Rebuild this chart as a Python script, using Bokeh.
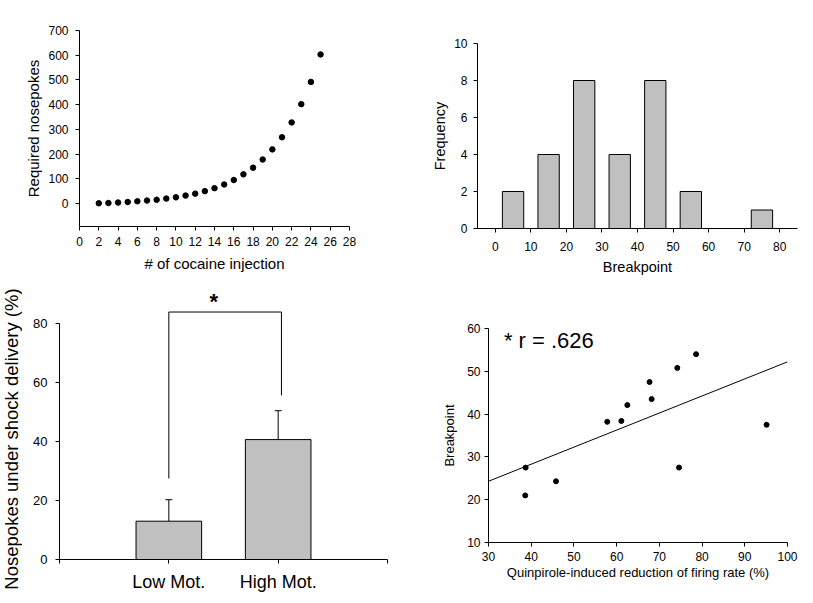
from bokeh.plotting import figure
from bokeh.layouts import column, row
from bokeh.models import FixedTicker, Label, Range1d
from bokeh.core.properties import value
from bokeh.embed import file_html
from bokeh.resources import INLINE
import numpy as np

# ---------------- Data ----------------
# Panel A: progressive-ratio schedule
injection_num = [2, 3, 4, 5, 6, 7, 8, 9, 10, 11, 12, 13, 14, 15, 16, 17, 18, 19, 20, 21, 22, 23, 24, 25]
required_nosepokes = [1, 2, 4, 6, 9, 12, 15, 20, 25, 32, 40, 50, 62, 77, 95, 118, 145, 178, 219, 268, 328, 402, 492, 603]

# Panel B: breakpoint histogram
bp_bin_centers = [5, 15, 25, 35, 45, 55, 65, 75]
bp_frequency = [2, 4, 8, 4, 8, 2, 0, 1]

# Panel C: nosepokes under shock
groups = ["Low Mot.", "High Mot."]
group_pos = [1, 2]
group_mean = [13.0, 40.7]
group_sem = [7.3, 9.8]
bracket_x = [1, 1, 2.03, 2.03]
bracket_y = [27.5, 84.0, 84.0, 55.7]
c_ylabel = "Nosepokes under shock delivery (%)"

# Panel D: correlation
firing_reduction = [38.7, 38.6, 45.8, 57.8, 61.1, 62.5, 67.7, 68.2, 74.2, 78.6, 74.6, 95.1]
breakpoint_vals = [27.5, 21.0, 24.3, 38.2, 38.4, 42.1, 47.5, 43.5, 50.8, 54.0, 27.5, 37.5]
r_text = "* r = .626"

FONT = "Liberation Sans"
GRAY = "#C0C0C0"


def style(p, tick_fs, label_fs, xstand=5, ystand=5, xlab_stand=8, ylab_stand=8):
    p.outline_line_color = None
    p.xgrid.visible = False
    p.ygrid.visible = False
    p.background_fill_color = "white"
    p.border_fill_color = "white"
    for ax in p.axis:
        ax.axis_line_color = "black"
        ax.axis_line_width = 1
        ax.major_tick_line_color = "black"
        ax.minor_tick_line_color = None
        ax.major_tick_in = 0
        ax.major_tick_out = 4
        ax.major_label_text_color = "black"
        ax.major_label_text_font = FONT
        ax.major_label_text_font_size = tick_fs
        ax.axis_label_text_color = "black"
        ax.axis_label_text_font = FONT
        ax.axis_label_text_font_size = label_fs
        ax.axis_label_text_font_style = "normal"
    p.xaxis.major_label_standoff = xstand
    p.yaxis.major_label_standoff = ystand
    p.xaxis.axis_label_standoff = xlab_stand
    p.yaxis.axis_label_standoff = ylab_stand


# ---------------- Panel A ----------------
p1 = figure(width=410, height=280, x_range=(0, 28), y_range=(-93, 700),
            min_border_left=79, min_border_right=61, min_border_top=30, min_border_bottom=54,
            output_backend="svg", toolbar_location=None)
p1.scatter(injection_num, required_nosepokes, size=5.5, color="black")
p1.xaxis.ticker = FixedTicker(ticks=list(range(0, 29, 2)))
p1.yaxis.ticker = FixedTicker(ticks=list(range(0, 701, 100)))
p1.xaxis.axis_label = "# of cocaine injection"
p1.yaxis.axis_label = "Required nosepokes"
style(p1, "12px", "15px", xstand=6, ystand=7, xlab_stand=6, ylab_stand=3)

# ---------------- Panel B ----------------
p2 = figure(width=401, height=280, x_range=(-5, 85), y_range=(0, 10),
            min_border_left=67, min_border_right=14, min_border_top=43, min_border_bottom=52,
            output_backend="svg", toolbar_location=None)
p2.vbar(x=bp_bin_centers, top=bp_frequency, width=6, bottom=0,
        fill_color=GRAY, line_color="black", line_width=1)
p2.xaxis.ticker = FixedTicker(ticks=list(range(0, 81, 10)))
p2.yaxis.ticker = FixedTicker(ticks=list(range(0, 11, 2)))
p2.xaxis.axis_label = "Breakpoint"
p2.yaxis.axis_label = "Frequency"
style(p2, "12px", "14.5px", xstand=9, ystand=6, xlab_stand=5, ylab_stand=3)

# ---------------- Panel C: y-axis title strip ----------------
pc_lab = figure(width=22, height=321, x_range=Range1d(0, 22), y_range=Range1d(321, 0),
                min_border_left=0, min_border_right=0, min_border_top=0, min_border_bottom=0,
                output_backend="svg", toolbar_location=None)
pc_lab.axis.visible = False
pc_lab.grid.visible = False
pc_lab.outline_line_color = None
pc_lab.text(x=[11], y=[158.5], text=[c_ylabel], angle=np.pi / 2,
            text_font=value(FONT), text_font_size="18.5px", text_align="center",
            text_baseline="middle", text_color="black")

# ---------------- Panel C ----------------
p3 = figure(width=388, height=321, x_range=(0, 3), y_range=(0, 93),
            min_border_left=37, min_border_right=23, min_border_top=5, min_border_bottom=42,
            output_backend="svg", toolbar_location=None)
p3.vbar(x=group_pos, top=group_mean, width=0.6, bottom=0,
        fill_color=GRAY, line_color="black", line_width=1)
err_top = [m + s for m, s in zip(group_mean, group_sem)]
p3.segment(x0=group_pos, y0=group_mean, x1=group_pos, y1=err_top, line_color="black", line_width=1)
p3.segment(x0=[x - 0.032 for x in group_pos], y0=err_top,
           x1=[x + 0.032 for x in group_pos], y1=err_top, line_color="black", line_width=1)
p3.line(bracket_x, bracket_y, line_color="black", line_width=1)
p3.add_layout(Label(x=1.41, y=87.5, text="*", text_font=FONT, text_font_size="22px",
                    text_font_style="bold", text_align="center", text_baseline="middle",
                    text_color="black"))
p3.xaxis.ticker = FixedTicker(ticks=[0, 1, 2, 3])
p3.xaxis.major_label_overrides = {0: "", 1: groups[0], 2: groups[1], 3: ""}
p3.yaxis.ticker = FixedTicker(ticks=[0, 20, 40, 60, 80])
p3.yaxis.bounds = (0, 80)
style(p3, "13px", "17px", xstand=8, ystand=8, xlab_stand=4, ylab_stand=4)
p3.xaxis.major_label_text_font_size = "18px"

# ---------------- Panel D ----------------
p4 = figure(width=401, height=321, x_range=(30, 100), y_range=(10, 60),
            min_border_left=78, min_border_right=24, min_border_top=48, min_border_bottom=59,
            output_backend="svg", toolbar_location=None)
slope, intercept = np.polyfit(firing_reduction, breakpoint_vals, 1)
fit_x = [30, 100]
fit_y = [slope * x + intercept for x in fit_x]
p4.line(fit_x, fit_y, line_color="black", line_width=1)
p4.scatter(firing_reduction, breakpoint_vals, size=5, color="black")
p4.add_layout(Label(x=33.6, y=57.1, text=r_text, text_font=FONT, text_font_size="22px",
                    text_align="left", text_baseline="middle", text_color="black"))
p4.xaxis.ticker = FixedTicker(ticks=list(range(30, 101, 10)))
p4.yaxis.ticker = FixedTicker(ticks=list(range(10, 61, 10)))
p4.xaxis.axis_label = "Quinpirole-induced reduction of firing rate (%)"
p4.yaxis.axis_label = "Breakpoint"
style(p4, "12px", "13px", xstand=5, ystand=4, xlab_stand=1, ylab_stand=7)

layout = column(row(column(p1), column(p2)),
                row(column(pc_lab), column(p3), column(p4)))
open("out.html", "w").write(file_html(layout, INLINE))
